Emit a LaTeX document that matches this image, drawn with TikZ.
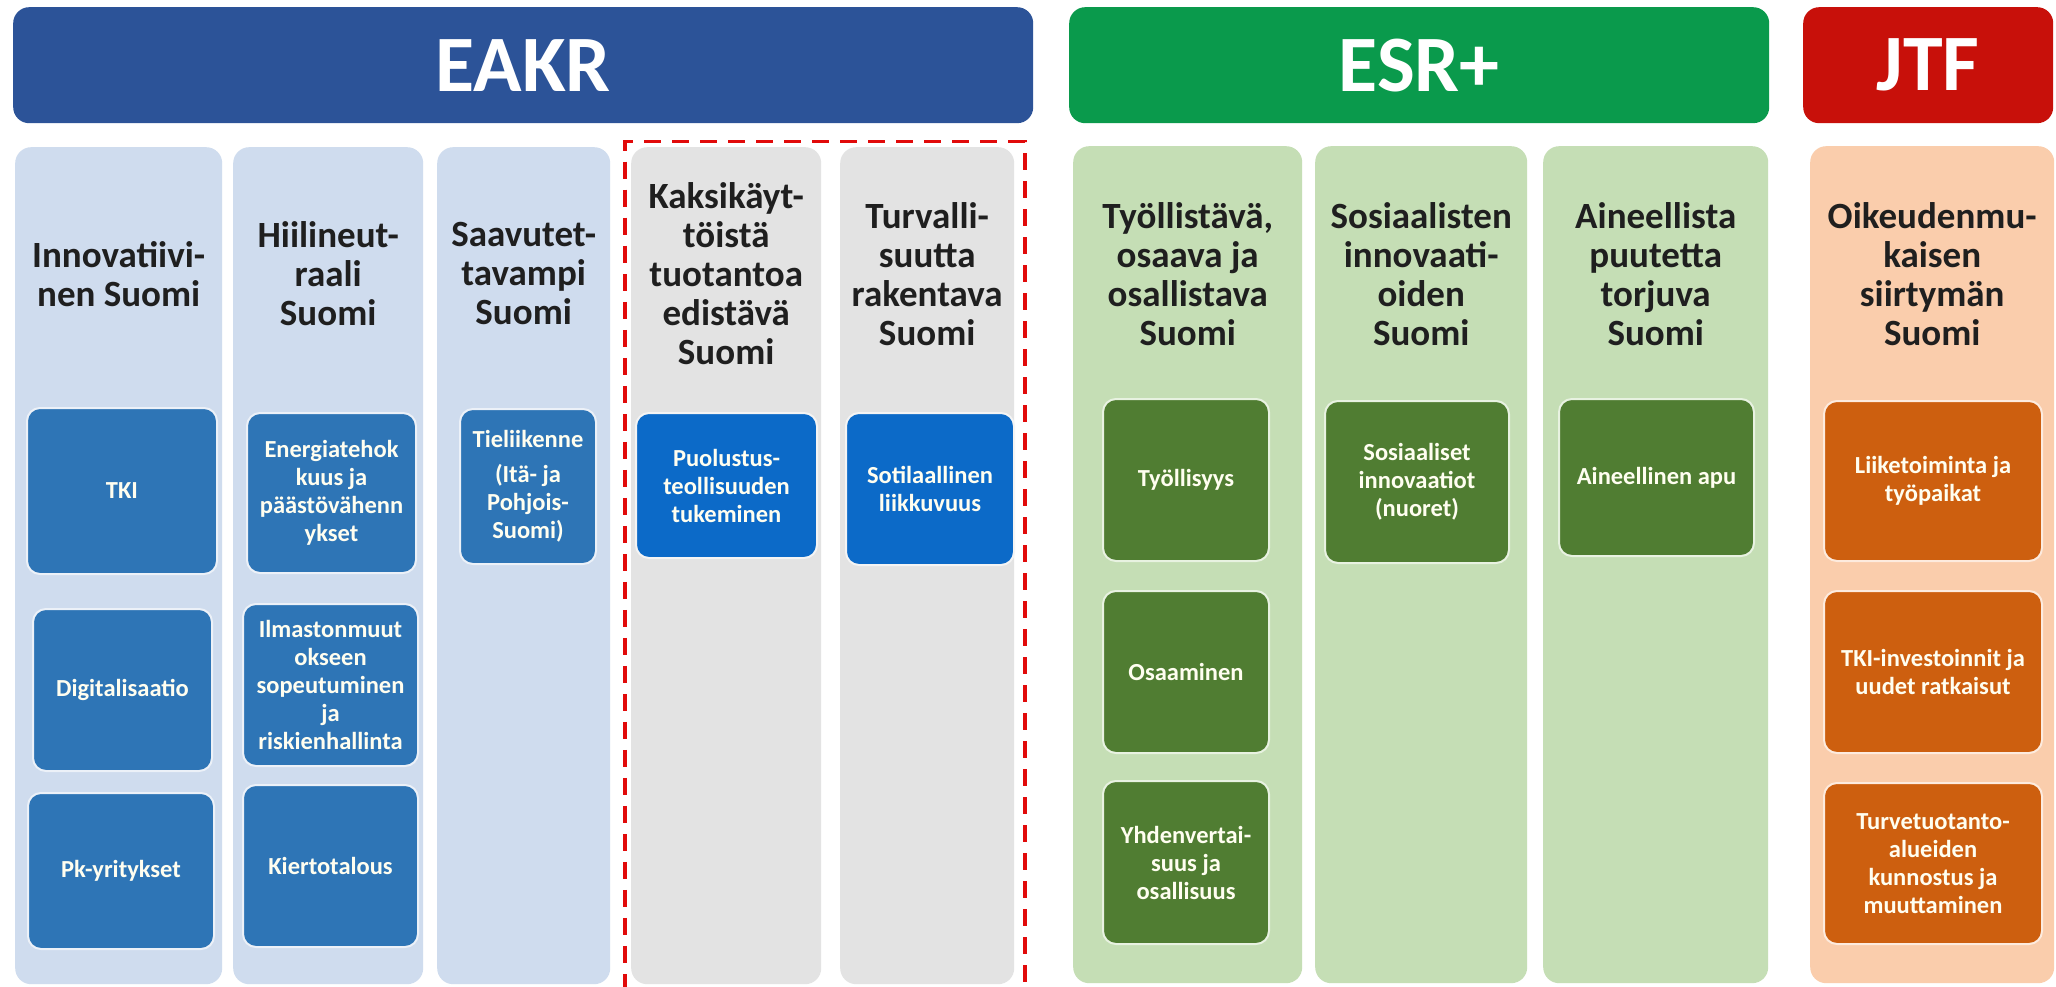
\documentclass[tikz,border=0pt]{standalone}
\usepackage{fontspec}
\setmainfont{Carlito}
\usetikzlibrary{positioning}

\definecolor{eakrblue}{RGB}{44,83,152}
\definecolor{eakrlight}{RGB}{207,220,238}
\definecolor{eakrbox}{RGB}{46,117,182}
\definecolor{dualbox}{RGB}{12,106,200}
\definecolor{dualgray}{RGB}{227,227,227}
\definecolor{esrgreen}{RGB}{10,154,76}
\definecolor{esrlight}{RGB}{197,222,181}
\definecolor{esrbox}{RGB}{80,125,50}
\definecolor{jtfred}{RGB}{200,16,10}
\definecolor{jtflight}{RGB}{250,205,172}
\definecolor{jtfbox}{RGB}{205,95,15}
\definecolor{dashred}{RGB}{225,10,10}

\begin{document}
\begin{tikzpicture}[x=1pt,y=-1pt,
  head/.style={anchor=north west,rounded corners=16pt,inner sep=0pt,text=white,
    font=\bfseries\fontsize{80}{80}\selectfont},
  col/.style={anchor=north west,rounded corners=16pt,inner sep=0pt},
  ttl/.style={align=center,inner sep=0pt,text=black!88,
    font=\bfseries\fontsize{37}{39}\selectfont},
  subbox/.style={anchor=north west,rounded corners=13pt,inner sep=0pt,align=center,
    text=white!94!yellow,line width=2pt,font=\bfseries\fontsize{24.5}{28}\selectfont},
  frame/.style={anchor=north west,draw=dashred,line width=3.5pt,inner sep=0pt,
    dash pattern=on 17pt off 11pt}]
\useasboundingbox (0,0) rectangle (2056,987);
\fill[white] (0,0) rectangle (2056,987);
% Headers
\node[head,fill=eakrblue,minimum width=1020pt,minimum height=116pt] (eakr) at (13,7) {EAKR};
\node[head,fill=esrgreen,minimum width=700pt,minimum height=116pt] (esr) at (1069,7) {ESR+};
\node[head,fill=jtfred,minimum width=250pt,minimum height=116pt] (jtf) at (1803,7) {JTF};
% Columns
\node[col,fill=eakrlight,minimum width=207pt,minimum height=837pt] (c1) at (15,147) {};
\node[col,fill=eakrlight,minimum width=190pt,minimum height=837pt] (c2) at (233,147) {};
\node[col,fill=eakrlight,minimum width=173pt,minimum height=837pt] (c3) at (437,147) {};
\node[col,fill=dualgray,minimum width=190pt,minimum height=837pt] (c4) at (631,147) {};
\node[col,fill=dualgray,minimum width=174pt,minimum height=837pt] (c5) at (840,147) {};
\node[col,fill=esrlight,minimum width=229pt,minimum height=837pt] (c6) at (1073,146) {};
\node[col,fill=esrlight,minimum width=212pt,minimum height=837pt] (c7) at (1315,146) {};
\node[col,fill=esrlight,minimum width=225pt,minimum height=837pt] (c8) at (1543,146) {};
\node[col,fill=jtflight,minimum width=244pt,minimum height=837pt] (c9) at (1810,146) {};
\node[frame,minimum width=400pt,minimum height=860pt] (dual) at (623,140) {};
% Titles
\coordinate (tl) at (0,274);
\node[ttl] (t1) at (c1 |- tl) {Innovatiivi-\\nen Suomi};
\node[ttl] (t2) at (c2 |- tl) {Hiilineut-\\raali\\Suomi};
\node[ttl] (t3) at (c3 |- tl) {Saavutet-\\tavampi\\Suomi};
\node[ttl] (t4) at (c4 |- tl) {Kaksikäyt-\\töistä\\tuotantoa\\edistävä\\Suomi};
\node[ttl] (t5) at (c5 |- tl) {Turvalli-\\suutta\\rakentava\\Suomi};
\node[ttl] (t6) at (c6 |- tl) {Työllistävä,\\osaava ja\\osallistava\\Suomi};
\node[ttl] (t7) at (c7 |- tl) {Sosiaalisten\\innovaati-\\oiden\\Suomi};
\node[ttl] (t8) at (c8 |- tl) {Aineellista\\puutetta\\torjuva\\Suomi};
\node[ttl] (t9) at (c9 |- tl) {Oikeudenmu-\\kaisen\\siirtymän\\Suomi};
% EAKR measures
\node[subbox,fill=eakrbox,draw=eakrlight!40!white,minimum width=190pt,minimum height=166pt] (tki) at (26,407) {TKI};
\node[subbox,fill=eakrbox,draw=eakrlight!40!white,minimum width=179pt,minimum height=162pt] (digi) at (32,608) {Digitalisaatio};
\node[subbox,fill=eakrbox,draw=eakrlight!40!white,minimum width=186pt,minimum height=156pt] (pk) at (27,792) {Pk-yritykset};
\node[subbox,fill=eakrbox,draw=eakrlight!40!white,minimum width=169pt,minimum height=160pt] (energy) at (246,412) {Energiatehok\\kuus ja\\päästövähenn\\ykset};
\node[subbox,fill=eakrbox,draw=eakrlight!40!white,minimum width=175pt,minimum height=162pt] (climate) at (242,603) {Ilmastonmuut\\okseen\\sopeutuminen\\ja\\riskienhallinta};
\node[subbox,fill=eakrbox,draw=eakrlight!40!white,minimum width=175pt,minimum height=162pt] (circular) at (242,784) {Kiertotalous};
\node[subbox,fill=eakrbox,draw=eakrlight!40!white,minimum width=136pt,minimum height=155pt] (road) at (459,408) {Tieliikenne\\[7pt](Itä- ja\\Pohjois-\\Suomi)};
\node[subbox,fill=dualbox,draw=dualgray!40!white,minimum width=181pt,minimum height=145pt] (defence) at (635,412) {Puolustus-\\teollisuuden\\tukeminen};
\node[subbox,fill=dualbox,draw=dualgray!40!white,minimum width=168pt,minimum height=152pt] (mobility) at (845,412) {Sotilaallinen\\liikkuvuus};
% ESR+ measures
\node[subbox,fill=esrbox,draw=esrlight!40!white,minimum width=166pt,minimum height=162pt] (jobs) at (1102,398) {Työllisyys};
\node[subbox,fill=esrbox,draw=esrlight!40!white,minimum width=166pt,minimum height=162pt] (skills) at (1102,590) {Osaaminen};
\node[subbox,fill=esrbox,draw=esrlight!40!white,minimum width=166pt,minimum height=163pt] (equal) at (1102,780) {Yhdenvertai-\\suus ja\\osallisuus};
\node[subbox,fill=esrbox,draw=esrlight!40!white,minimum width=184pt,minimum height=162pt] (social) at (1324,400) {Sosiaaliset\\innovaatiot\\(nuoret)};
\node[subbox,fill=esrbox,draw=esrlight!40!white,minimum width=195pt,minimum height=157pt] (aid) at (1558,398) {Aineellinen apu};
% JTF measures
\node[subbox,fill=jtfbox,draw=jtflight!40!white,minimum width=218pt,minimum height=160pt] (business) at (1823,400) {Liiketoiminta ja\\työpaikat};
\node[subbox,fill=jtfbox,draw=jtflight!40!white,minimum width=218pt,minimum height=162pt] (rdi) at (1823,590) {TKI-investoinnit ja\\uudet ratkaisut};
\node[subbox,fill=jtfbox,draw=jtflight!40!white,minimum width=218pt,minimum height=161pt] (peat) at (1823,782) {Turvetuotanto-\\alueiden\\kunnostus ja\\muuttaminen};
\end{tikzpicture}
\end{document}
